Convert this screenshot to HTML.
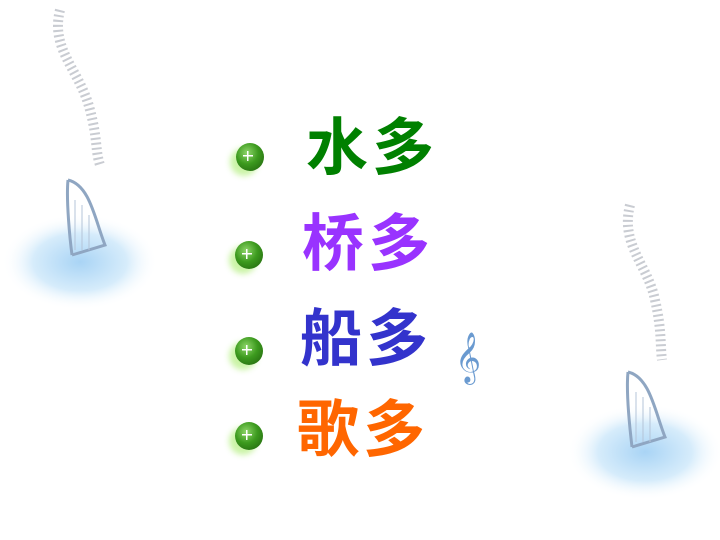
<!DOCTYPE html>
<html><head><meta charset="utf-8"><style>
body{margin:0;width:720px;height:540px;background:#fff;position:relative;overflow:hidden;font-family:"Liberation Sans","Noto Sans CJK SC",sans-serif}
.t{position:absolute;font-family:"Liberation Sans","Noto Sans CJK SC",sans-serif;font-weight:700;font-size:62px;line-height:62px;letter-spacing:4px;white-space:nowrap}
.b{position:absolute;width:28px;height:28px;border-radius:50%;background:radial-gradient(circle at 40% 35%,#8fd66a 0%,#3c9a1e 45%,#1e5e0c 100%);box-shadow:-6px 5px 6px rgba(140,230,60,.45)}
.b:after{content:"";position:absolute;left:7px;top:8px;width:10px;height:10px;background:linear-gradient(#fff,#fff) center/10px 1.5px no-repeat,linear-gradient(#fff,#fff) center/1.5px 10px no-repeat}
</style></head><body>
<svg style="position:absolute;left:0;top:0" width="180" height="320">
<defs><radialGradient id="g" cx="50%" cy="50%" r="50%"><stop offset="0" stop-color="#a9d4f5"/><stop offset=".6" stop-color="#d6ecfb"/><stop offset="1" stop-color="#fff" stop-opacity="0"/></radialGradient></defs>
<ellipse cx="80" cy="262" rx="78" ry="48" fill="url(#g)"/>
<path d="M60 10 C50 50,80 70,90 110 C98 140,95 150,100 165" stroke="#c9ccd2" stroke-width="10" fill="none" stroke-dasharray="2 3"/>
<path d="M68 180 C66 200,70 240,72 255 M68 180 C90 185,95 220,105 245 L72 255" stroke="#8fa6c2" stroke-width="3" fill="none"/>
<path d="M75 200 L75 250 M82 205 L82 250 M89 215 L89 250" stroke="#b4c4d8" stroke-width="1"/>
</svg>
<svg style="position:absolute;top:0;left:560px" width="160" height="540">
<defs><radialGradient id="g2" cx="50%" cy="50%" r="50%"><stop offset="0" stop-color="#a9d4f5"/><stop offset=".6" stop-color="#d6ecfb"/><stop offset="1" stop-color="#fff" stop-opacity="0"/></radialGradient></defs>
<ellipse cx="85" cy="452" rx="78" ry="48" fill="url(#g2)"/>
<path d="M70 205 C60 245,88 265,95 300 C102 330,100 345,102 360" stroke="#c9ccd2" stroke-width="10" fill="none" stroke-dasharray="2 3"/>
<path d="M68 372 C66 392,70 430,72 447 M68 372 C90 377,95 412,105 437 L72 447" stroke="#8fa6c2" stroke-width="3" fill="none"/>
<path d="M76 392 L76 442 M83 397 L83 442 M90 407 L90 442" stroke="#b4c4d8" stroke-width="1"/>
</svg>
<div style="position:absolute;left:455px;top:328px;font-size:44px;line-height:60px;color:#6a9ad0;font-family:'DejaVu Sans',sans-serif">𝄞</div>
<div class="b" style="left:236px;top:143px"></div>
<div class="b" style="left:235px;top:241px"></div>
<div class="b" style="left:235px;top:337px"></div>
<div class="b" style="left:235px;top:422px"></div>
<div class="t" style="left:306px;top:118px;color:#008000">水多</div>
<div class="t" style="left:302px;top:214px;color:#9933ff">桥多</div>
<div class="t" style="left:300px;top:309px;color:#3333cc">船多</div>
<div class="t" style="left:297px;top:400px;color:#ff6600">歌多</div>
</body></html>
